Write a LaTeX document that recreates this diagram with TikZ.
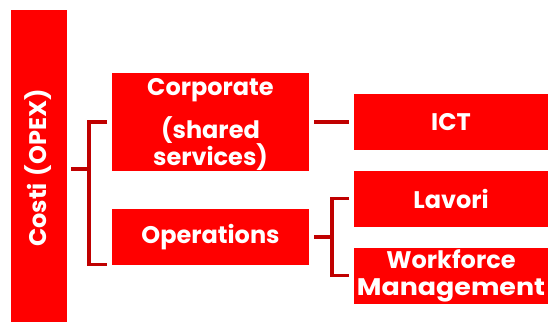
\documentclass[tikz,border=0pt]{standalone}
\usepackage{fontspec}
\setmainfont{Poppins}
\definecolor{boxred}{HTML}{FF0000}
\definecolor{linered}{HTML}{C00000}
\begin{document}
\begin{tikzpicture}[x=1pt,y=-1pt,
  rbox/.style={fill=boxred, draw=none, inner sep=0pt, text=white, font=\bfseries\fontsize{24}{28}\selectfont, align=center},
  wtext/.style={text=white, font=\bfseries\fontsize{24}{27}\selectfont, align=center, inner sep=0pt},
  conn/.style={draw=linered, line width=3.5pt}]
\useasboundingbox (0,0) rectangle (548,322);
\fill[boxred] (10.5,10) rectangle (66.5,322);
\node[wtext, rotate=90] (costi) at (38.5,168) {Costi\hspace{7pt}(OPEX)};
\node[rbox, minimum width=197pt, minimum height=98pt] (corp) at (210.5,122) {};
\node[wtext] (corpt) at (210.5,90) {Corporate};
\node[wtext] (corps) at (210.5,143.5) {(shared\\services)};
\node[rbox, minimum width=197pt, minimum height=56pt] (ops) at (210.5,237) {Operations};
\node[rbox, minimum width=194pt, minimum height=56pt] (ict) at (451,122) {ICT};
\node[rbox, minimum width=194pt, minimum height=56pt] (lav) at (451,198.5) {Lavori};
\node[rbox, minimum width=194pt, minimum height=56pt] (wf) at (451,275.5) {};
\node[wtext] (wft) at (451,276) {Workforce\\\scalebox{1.12}[1]{Management}};
% bracket left
\draw[conn] (71,169) -- (89,169);
\draw[conn] (107,122) -| (89,264.5) -- (107,264.5);
% corp to ict
\draw[conn] (314,122) -- (349,122);
% ops bracket
\draw[conn] (314,237) -- (332,237);
\draw[conn] (349,198.5) -| (332,275.5) -- (349,275.5);
\end{tikzpicture}
\end{document}
